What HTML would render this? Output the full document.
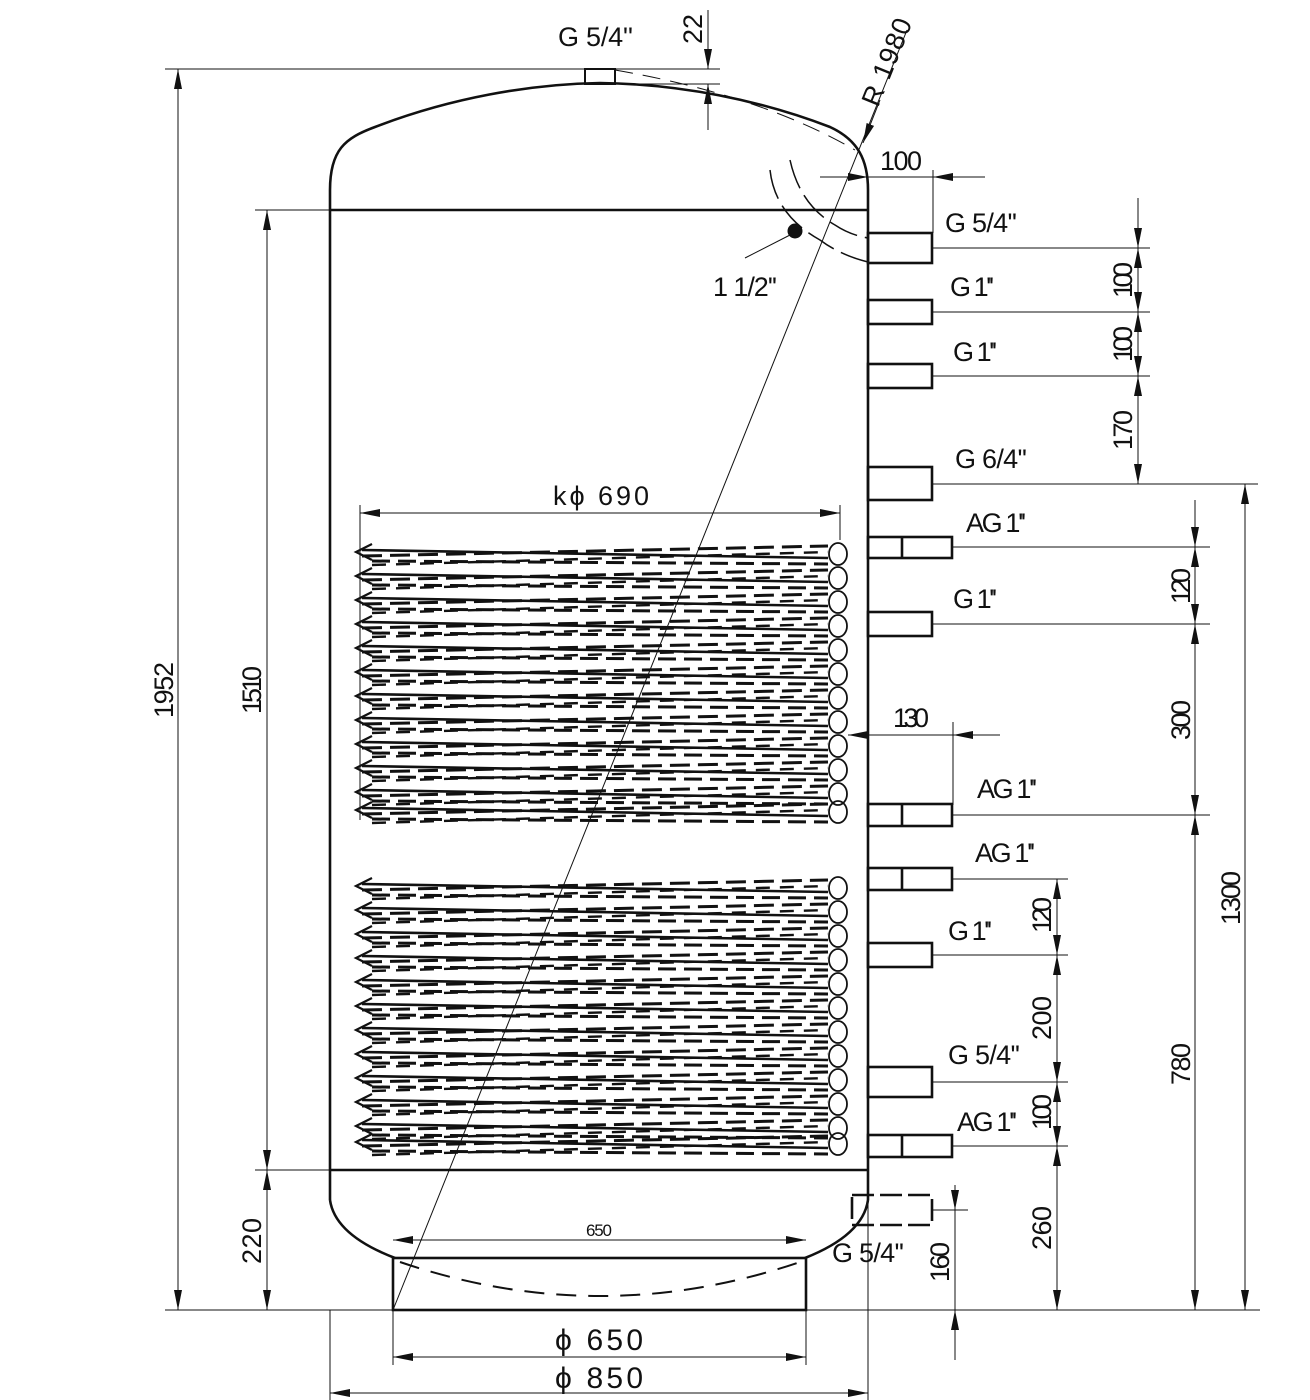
<!DOCTYPE html>
<html><head><meta charset="utf-8"><style>
html,body{margin:0;padding:0;background:#fff}
svg{display:block}
text{font-family:"Liberation Sans",sans-serif;fill:#111}
</style></head><body>
<svg width="1310" height="1400" viewBox="0 0 1310 1400" xmlns="http://www.w3.org/2000/svg">
<defs>
<marker id="a" viewBox="0 0 20 8" refX="20" refY="4" markerWidth="20" markerHeight="8" orient="auto-start-reverse" markerUnits="userSpaceOnUse"><path d="M0 0L20 4L0 8z" fill="#111"/></marker>
<g id="loop" fill="none" stroke="#111">
<path d="M362 2 L828 10" stroke-width="2.6"/>
<path d="M362 8 L828 -2" stroke-width="3" stroke-dasharray="20 8"/>
<path d="M372 13 L828 16" stroke-width="3" stroke-dasharray="18 8"/>
<path d="M372 17 L828 4" stroke-width="2.4" stroke-dasharray="14 10"/>
<ellipse cx="838" cy="6" rx="9" ry="11" stroke-width="1.8"/>
<path d="M372 -4 L356 4 L372 12" stroke-width="2.2"/>
</g>
</defs>
<g fill="none" stroke="#111">
<path d="M330 1200 L330 190 C330 150 345 138 375 127 C450 98 530 84 600 83 C680 84 760 100 830 127 C858 140 868 160 868 190 L868 1200" stroke-width="2.6"/>
<path d="M330 1200 Q335 1235 395 1258 M868 1200 Q863 1235 805 1258" stroke-width="2.6"/>
<line x1="330" y1="210" x2="868" y2="210" stroke-width="2.6"/>
<line x1="330" y1="1170" x2="868" y2="1170" stroke-width="2.6"/>
<rect x="393" y="1258" width="413" height="52" stroke-width="2.6"/>
<path d="M400 1262 Q600 1330 800 1262" stroke-width="2" stroke-dasharray="20 12"/>
<rect x="585" y="69" width="30" height="15" stroke-width="2"/>
<path d="M615 70 Q760 95 855 150" stroke-width="1" stroke-dasharray="18 10"/>
<path d="M770 170 Q775 215 820 240 Q840 255 868 262 M790 160 Q800 205 835 225 Q850 235 868 238" stroke-width="1.5" stroke-dasharray="30 8"/>
<circle cx="795" cy="231" r="7" fill="#111"/>
<line x1="745" y1="258" x2="790" y2="235" stroke-width="1"/>
<g stroke-width="2.6">
<rect x="868" y="233" width="64" height="30"/>
<rect x="868" y="300" width="64" height="24"/>
<rect x="868" y="364" width="64" height="24"/>
<rect x="868" y="467" width="64" height="33"/>
<rect x="868" y="537" width="84" height="21"/><line x1="902" y1="537" x2="902" y2="558"/>
<rect x="868" y="612" width="64" height="24"/>
<rect x="868" y="804" width="84" height="22"/><line x1="902" y1="804" x2="902" y2="826"/>
<rect x="868" y="868" width="84" height="22"/><line x1="902" y1="868" x2="902" y2="890"/>
<rect x="868" y="943" width="64" height="24"/>
<rect x="868" y="1067" width="64" height="30"/>
<rect x="868" y="1135" width="84" height="22"/><line x1="902" y1="1135" x2="902" y2="1157"/>
<rect x="852" y="1195" width="80" height="30" stroke-dasharray="22 6"/>
</g>
<line x1="393" y1="1310" x2="907" y2="30" stroke-width="1"/>
<line x1="880" y1="100" x2="863" y2="143" stroke-width="1" marker-end="url(#a)"/>
<g stroke-width="1">
<line x1="165" y1="69" x2="720" y2="69"/>
<line x1="615" y1="84" x2="720" y2="84"/>
<line x1="708" y1="10" x2="708" y2="69" marker-end="url(#a)"/>
<line x1="708" y1="130" x2="708" y2="84" marker-end="url(#a)"/>
<line x1="178" y1="69" x2="178" y2="1310" marker-start="url(#a)" marker-end="url(#a)"/>
<line x1="255" y1="210" x2="330" y2="210"/>
<line x1="255" y1="1170" x2="330" y2="1170"/>
<line x1="267" y1="210" x2="267" y2="1170" marker-start="url(#a)" marker-end="url(#a)"/>
<line x1="267" y1="1170" x2="267" y2="1310" marker-start="url(#a)" marker-end="url(#a)"/>
<line x1="165" y1="1310" x2="1260" y2="1310"/>
<line x1="330" y1="1310" x2="330" y2="1400"/>
<line x1="868" y1="1200" x2="868" y2="1400"/>
<line x1="393" y1="1310" x2="393" y2="1365"/>
<line x1="806" y1="1310" x2="806" y2="1365"/>
<line x1="393" y1="1357" x2="806" y2="1357" marker-start="url(#a)" marker-end="url(#a)"/>
<line x1="330" y1="1393" x2="868" y2="1393" marker-start="url(#a)" marker-end="url(#a)"/>
<line x1="393" y1="1240" x2="806" y2="1240" marker-start="url(#a)" marker-end="url(#a)"/>
<line x1="360" y1="513" x2="840" y2="513" marker-start="url(#a)" marker-end="url(#a)"/>
<line x1="360" y1="505" x2="360" y2="820"/>
<line x1="840" y1="505" x2="840" y2="540"/>
<line x1="820" y1="177" x2="868" y2="177" marker-end="url(#a)"/>
<line x1="985" y1="177" x2="933" y2="177" marker-end="url(#a)"/>
<line x1="868" y1="177" x2="933" y2="177"/>
<line x1="933" y1="170" x2="933" y2="233"/>
<line x1="953" y1="735" x2="848" y2="735" marker-end="url(#a)"/>
<line x1="1000" y1="735" x2="953" y2="735" marker-end="url(#a)"/>
<line x1="953" y1="722" x2="953" y2="805"/>
<line x1="932" y1="248" x2="1150" y2="248"/>
<line x1="932" y1="312" x2="1150" y2="312"/>
<line x1="932" y1="376" x2="1150" y2="376"/>
<line x1="932" y1="484" x2="1258" y2="484"/>
<line x1="1138" y1="198" x2="1138" y2="248" marker-end="url(#a)"/>
<line x1="1138" y1="248" x2="1138" y2="312" marker-start="url(#a)" marker-end="url(#a)"/>
<line x1="1138" y1="312" x2="1138" y2="376" marker-start="url(#a)" marker-end="url(#a)"/>
<line x1="1138" y1="376" x2="1138" y2="484" marker-start="url(#a)" marker-end="url(#a)"/>
<line x1="952" y1="547" x2="1210" y2="547"/>
<line x1="932" y1="624" x2="1210" y2="624"/>
<line x1="952" y1="815" x2="1210" y2="815"/>
<line x1="1195" y1="500" x2="1195" y2="547" marker-end="url(#a)"/>
<line x1="1195" y1="547" x2="1195" y2="624" marker-start="url(#a)" marker-end="url(#a)"/>
<line x1="1195" y1="624" x2="1195" y2="815" marker-start="url(#a)" marker-end="url(#a)"/>
<line x1="1195" y1="815" x2="1195" y2="1310" marker-start="url(#a)" marker-end="url(#a)"/>
<line x1="1245" y1="484" x2="1245" y2="1310" marker-start="url(#a)" marker-end="url(#a)"/>
<line x1="952" y1="879" x2="1068" y2="879"/>
<line x1="932" y1="955" x2="1068" y2="955"/>
<line x1="932" y1="1082" x2="1068" y2="1082"/>
<line x1="952" y1="1146" x2="1068" y2="1146"/>
<line x1="1057" y1="879" x2="1057" y2="955" marker-start="url(#a)" marker-end="url(#a)"/>
<line x1="1057" y1="955" x2="1057" y2="1082" marker-start="url(#a)" marker-end="url(#a)"/>
<line x1="1057" y1="1082" x2="1057" y2="1146" marker-start="url(#a)" marker-end="url(#a)"/>
<line x1="1057" y1="1146" x2="1057" y2="1310" marker-start="url(#a)" marker-end="url(#a)"/>
<line x1="932" y1="1210" x2="968" y2="1210"/>
<line x1="955" y1="1185" x2="955" y2="1210" marker-end="url(#a)"/>
<line x1="955" y1="1360" x2="955" y2="1310" marker-end="url(#a)"/>
<line x1="955" y1="1210" x2="955" y2="1310"/>
</g>
</g>
<use href="#loop" y="548"/><use href="#loop" y="572"/><use href="#loop" y="596"/><use href="#loop" y="620"/>
<use href="#loop" y="644"/><use href="#loop" y="668"/><use href="#loop" y="692"/><use href="#loop" y="716"/>
<use href="#loop" y="740"/><use href="#loop" y="764"/><use href="#loop" y="788"/><use href="#loop" y="806"/>
<use href="#loop" y="882"/><use href="#loop" y="906"/><use href="#loop" y="930"/><use href="#loop" y="954"/>
<use href="#loop" y="978"/><use href="#loop" y="1002"/><use href="#loop" y="1026"/><use href="#loop" y="1050"/>
<use href="#loop" y="1074"/><use href="#loop" y="1098"/><use href="#loop" y="1122"/><use href="#loop" y="1138"/>
<g font-size="27">
<text x="558" y="46" textLength="75">G 5/4''</text>
<text x="702" y="44" transform="rotate(-90 702 44)" textLength="30">22</text>
<text x="878" y="108" transform="rotate(-68 878 108)" textLength="92">R 1980</text>
<text x="880" y="170" textLength="42">100</text>
<text x="945" y="232" textLength="72">G 5/4''</text>
<text x="950" y="296" textLength="44">G 1''</text>
<text x="953" y="361" textLength="44">G 1''</text>
<text x="955" y="468" textLength="72">G 6/4''</text>
<text x="966" y="532" textLength="60">AG 1''</text>
<text x="953" y="608" textLength="44">G 1''</text>
<text x="893" y="727" textLength="36">130</text>
<text x="977" y="798" textLength="60">AG 1''</text>
<text x="975" y="862" textLength="60">AG 1''</text>
<text x="948" y="940" textLength="44">G 1''</text>
<text x="948" y="1064" textLength="72">G 5/4''</text>
<text x="957" y="1131" textLength="60">AG 1''</text>
<text x="832" y="1262" textLength="72">G 5/4''</text>
<text x="713" y="296" textLength="64">1 1/2''</text>
<text x="553" y="505" textLength="96">kϕ 690</text>
<text x="1132" y="298" transform="rotate(-90 1132 298)" textLength="36">100</text>
<text x="1132" y="362" transform="rotate(-90 1132 362)" textLength="36">100</text>
<text x="1132" y="450" transform="rotate(-90 1132 450)" textLength="40">170</text>
<text x="1190" y="604" transform="rotate(-90 1190 604)" textLength="36">120</text>
<text x="1190" y="740" transform="rotate(-90 1190 740)" textLength="40">300</text>
<text x="1190" y="1085" transform="rotate(-90 1190 1085)" textLength="42">780</text>
<text x="1240" y="925" transform="rotate(-90 1240 925)" textLength="54">1300</text>
<text x="1051" y="933" transform="rotate(-90 1051 933)" textLength="36">120</text>
<text x="1051" y="1040" transform="rotate(-90 1051 1040)" textLength="44">200</text>
<text x="1051" y="1130" transform="rotate(-90 1051 1130)" textLength="36">100</text>
<text x="1051" y="1250" transform="rotate(-90 1051 1250)" textLength="44">260</text>
<text x="949" y="1282" transform="rotate(-90 949 1282)" textLength="40">160</text>
<text x="173" y="718" transform="rotate(-90 173 718)" textLength="56">1952</text>
<text x="261" y="714" transform="rotate(-90 261 714)" textLength="48">1510</text>
<text x="261" y="1264" transform="rotate(-90 261 1264)" textLength="46">220</text>
<text x="586" y="1236" font-size="17" textLength="26">650</text>
<text x="555" y="1350" font-size="30" textLength="88">ϕ 650</text>
<text x="555" y="1388" font-size="30" textLength="88">ϕ 850</text>
</g>
</svg>
</body></html>
